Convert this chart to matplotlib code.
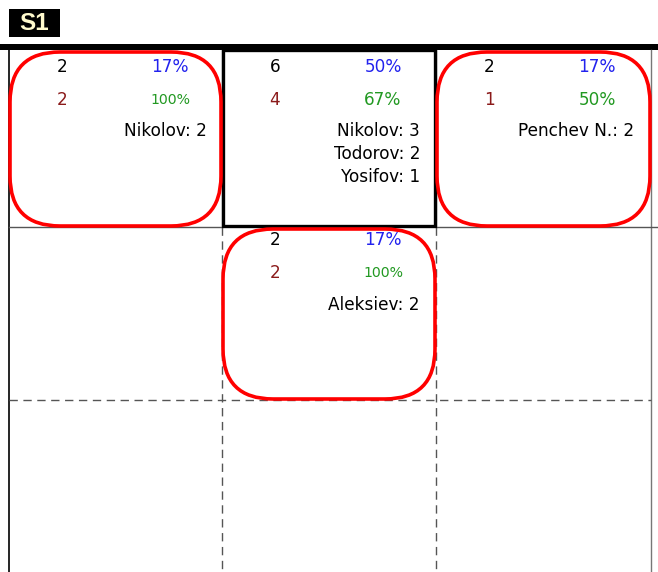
import matplotlib
matplotlib.use("Agg")
import matplotlib.pyplot as plt
from matplotlib.patches import FancyBboxPatch, Rectangle

plt.rcParams['font.family'] = ['DejaVu Sans']

# ---- data ----
title = "S1"
cell_rows = [0, 0, 0, 1]
cell_cols = [0, 1, 2, 1]
totals = [2, 6, 2, 2]
total_pcts = ["17%", "50%", "17%", "17%"]
seconds = [2, 4, 1, 2]
second_pcts = ["100%", "67%", "50%", "100%"]
names = [["Nikolov: 2"], ["Nikolov: 3", "Todorov: 2", "Yosifov: 1"],
         ["Penchev N.: 2"], ["Aleksiev: 2"]]
highlight = [True, False, True, True]   # red rounded frame
selected = [False, True, False, False]  # thick black frame

# ---- layout ----
W, H = 658, 572
col_x = [9, 222, 436, 651]
row_y = [50, 227, 400, 572]
row_off = [(17, 50, 81), (13, 46, 78)]

fig = plt.figure(figsize=(W / 100, H / 100), dpi=100)
ax = fig.add_axes([0, 0, 1, 1])
ax.set_xlim(0, W)
ax.set_ylim(H, 0)
ax.axis('off')

# title box
ax.add_patch(Rectangle((9, 9), 51, 28, facecolor='black', edgecolor='none'))
ax.text(34.5, 23.5, title, color='#fffacd', fontsize=17.5, fontweight='bold',
        family=['Liberation Sans', 'DejaVu Sans'], ha='center', va='center')
# thick header line
ax.add_patch(Rectangle((0, 44), W, 6, facecolor='black', edgecolor='none'))

# grid lines
ax.plot([col_x[0], col_x[0]], [50, H], color='black', lw=1.2)
ax.plot([col_x[3], col_x[3]], [50, H], color='#777777', lw=1.0)
ax.plot([col_x[0], col_x[1]], [row_y[1], row_y[1]], color='#555555', lw=1.0)
ax.plot([col_x[2], W], [row_y[1], row_y[1]], color='#555555', lw=1.0)
for x in (col_x[1], col_x[2]):
    ax.plot([x, x], [row_y[1], H], color='#555555', lw=1.0, ls=(0, (6, 4)))
ax.plot([col_x[0], col_x[3]], [row_y[2], row_y[2]], color='#555555', lw=1.0,
        ls=(0, (6, 4)))
ax.plot([col_x[1], col_x[1]], [50, row_y[1]], color='#888888', lw=1.0)
ax.plot([col_x[2], col_x[2]], [50, row_y[1]], color='#888888', lw=1.0)

for i in range(len(totals)):
    r, c = cell_rows[i], cell_cols[i]
    x0, x1 = col_x[c], col_x[c + 1]
    y0, y1 = row_y[r], row_y[r + 1]
    if selected[i]:
        ax.add_patch(Rectangle((x0 + 1, y0), (x1 - x0) - 2, (y1 - y0) - 1,
                               facecolor='none', edgecolor='black', lw=2.4,
                               zorder=3))
    if highlight[i]:
        ax.add_patch(FancyBboxPatch((x0 + 1, y0 + 2), (x1 - x0) - 2, (y1 - y0) - 3,
                                    boxstyle="round,pad=0,rounding_size=50",
                                    facecolor='none', edgecolor='#ff0000',
                                    lw=2.6, zorder=4))
    o1, o2, o3 = row_off[r]
    ax.text(x0 + 53, y0 + o1, str(totals[i]), color='black', fontsize=12.2,
            ha='center', va='center', zorder=5)
    ax.text(x0 + 161, y0 + o1, total_pcts[i], color='#2222ee', fontsize=12.2,
            ha='center', va='center', zorder=5)
    ax.text(x0 + 53, y0 + o2, str(seconds[i]), color='#8b1a1a', fontsize=12.2,
            ha='center', va='center', zorder=5)
    fs = 10.2 if len(second_pcts[i]) > 3 else 12.2
    ax.text(x0 + 161, y0 + o2, second_pcts[i], color='#229922', fontsize=fs,
            ha='center', va='center', zorder=5)
    for k, nm in enumerate(names[i]):
        ax.text(x0 + 198, y0 + o3 + 23 * k, nm, color='black', fontsize=12.2,
                ha='right', va='center', zorder=5)

fig.savefig('out.png', dpi=100)
